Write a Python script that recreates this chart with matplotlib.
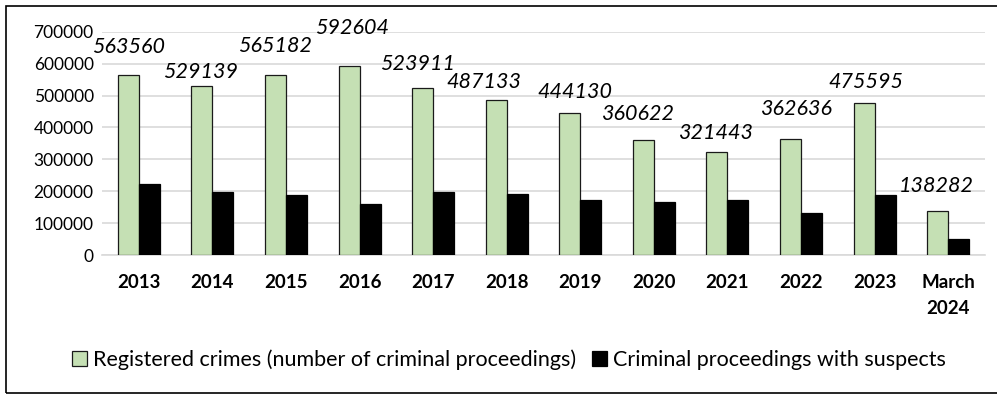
import matplotlib.pyplot as plt
import numpy as np
from matplotlib.patches import Rectangle

# yearly figures
periods = ['2013', '2014', '2015', '2016', '2017', '2018', '2019',
           '2020', '2021', '2022', '2023', 'March\n2024']
registered = [563560, 529139, 565182, 592604, 523911, 487133, 444130,
              360622, 321443, 362636, 475595, 138282]
with_suspects = [223000, 198000, 188000, 160000, 198000, 192000, 171000,
                 167000, 172000, 133000, 189000, 51000]

# hand-placed label offsets (points) above the green bars
label_dx = [0, -1, 0, 2, -4, -9, 4, -4, -1, 4, 1, -1]
label_dy = [20, 10, 21, 27, 17, 13, 15, 19, 14, 22, 15, 18]

plt.rcParams['font.family'] = ['Lato', 'DejaVu Sans']

fig = plt.figure(figsize=(9.97, 3.94), dpi=100)
ax = fig.add_axes([102 / 997, 139 / 394, 883 / 997, 223.3 / 394])

x = np.arange(len(periods))
w = 0.285
ax.bar(x - w / 2, registered, w, color='#c5e0b4', edgecolor='#1a1a1a', linewidth=0.9,
       label='Registered crimes (number of criminal proceedings)', zorder=3)
ax.bar(x + w / 2, with_suspects, w, color='black', edgecolor='black', linewidth=0.9,
       label='Criminal proceedings with suspects', zorder=3)

for i, v in enumerate(registered):
    ax.annotate(str(v), (x[i] - w / 2, v), xytext=(label_dx[i], label_dy[i]),
                textcoords='offset points', ha='center', va='center',
                fontsize=15.5, style='italic', color='black')

ax.set_xlim(-0.5, len(periods) - 0.5)
ax.set_ylim(0, 700000)
ax.set_yticks(range(0, 700001, 100000))
ax.set_yticklabels([str(t) for t in range(0, 700001, 100000)], fontsize=12.5)
ax.set_xticks(x)
ax.set_xticklabels(periods, fontsize=13.5, fontweight='bold', linespacing=1.6, va='top')
ax.tick_params(axis='both', length=0)
ax.tick_params(axis='x', pad=14)
ax.tick_params(axis='y', pad=6)
ax.yaxis.grid(True, color='#d9d9d9', linewidth=1.2, zorder=0)
ax.set_axisbelow(True)
for s in ['top', 'right', 'left']:
    ax.spines[s].set_visible(False)
ax.spines['bottom'].set_color('#d9d9d9')
ax.spines['bottom'].set_linewidth(1.2)

fig.legend(loc='center', bbox_to_anchor=(509 / 997, 1 - 360 / 394), ncol=2, frameon=False,
           fontsize=15.5, handlelength=0.7, handleheight=0.7, handletextpad=0.3,
           columnspacing=0.7)

# outer frame (right edge runs off the canvas)
fig.patches.append(Rectangle((6 / 997, 1.5 / 394), 1000 / 997, 386.5 / 394, transform=fig.transFigure,
                             fill=False, edgecolor='black', linewidth=1.2))

fig.savefig('out.png', dpi=100)
